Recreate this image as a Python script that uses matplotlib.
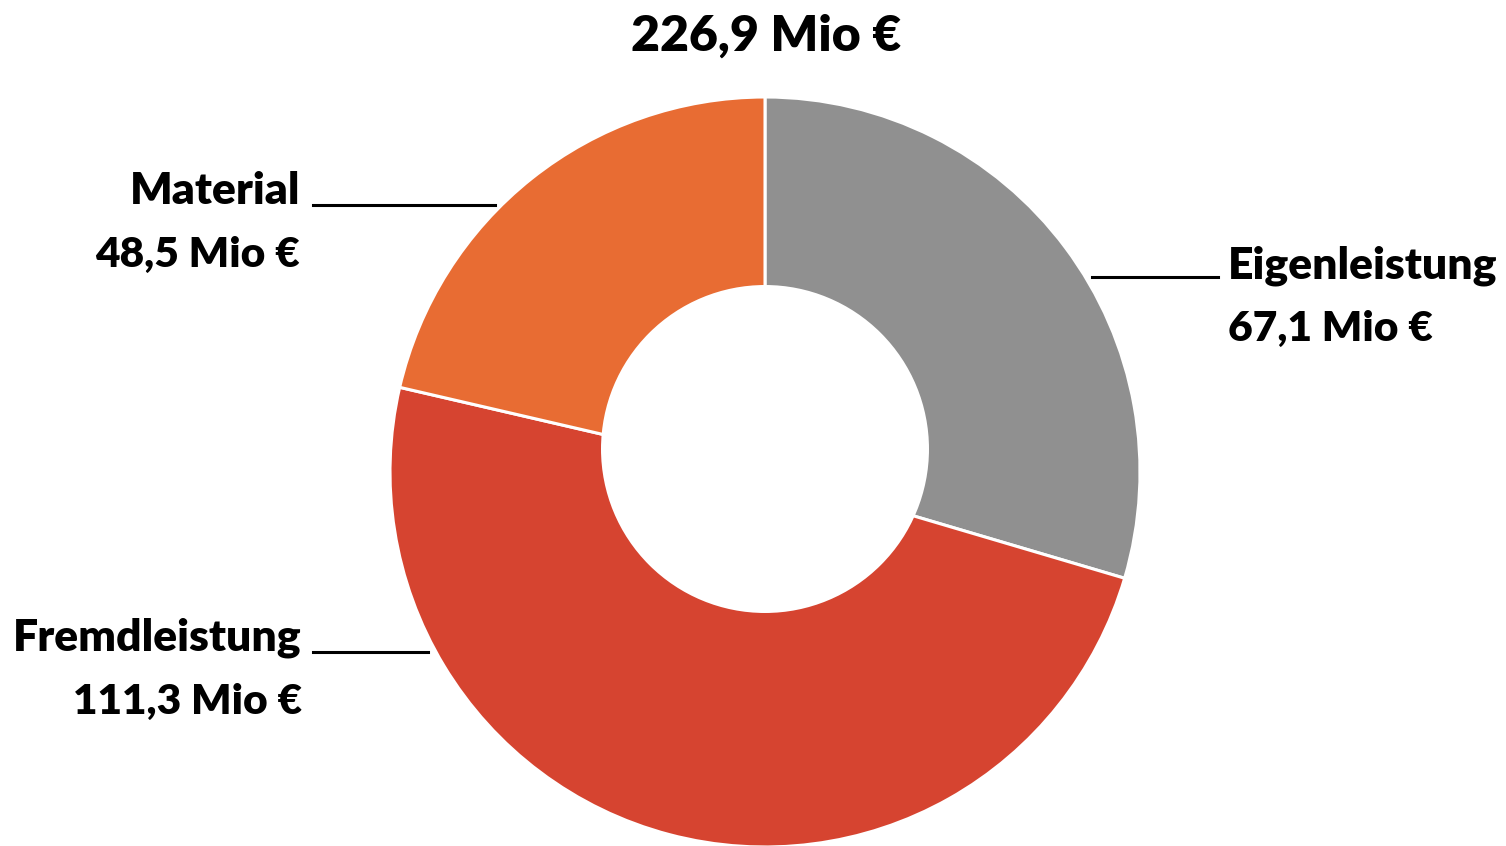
import matplotlib.pyplot as plt
from matplotlib import font_manager
from matplotlib.patches import Circle

# data
labels = ["Eigenleistung", "Fremdleistung", "Material"]
values = [67.1, 111.3, 48.5]
value_text = ["67,1 Mio €", "111,3 Mio €", "48,5 Mio €"]
total_text = "226,9 Mio €"
colors = ["#909090", "#d64430", "#e86c33"]

W, H = 1506, 846
names = {f.name for f in font_manager.fontManager.ttflist}
font = "Lato" if "Lato" in names else "DejaVu Sans"
plt.rcParams["font.family"] = [font, "DejaVu Sans"]

fig = plt.figure(figsize=(W / 100, H / 100), dpi=100)
ax = fig.add_axes([0, 0, 1, 1])

def py(y):
    # pixel row from top -> data y
    return H - y

ax.pie(values, colors=colors, startangle=90, counterclock=False,
       center=(765, py(472)), radius=375,
       wedgeprops=dict(edgecolor="white", linewidth=2.2))
# hole sits a bit above the pie centre in the original
ax.add_patch(Circle((765, py(449)), 164, facecolor="white", edgecolor="none", zorder=5))
ax.set_xlim(0, W)
ax.set_ylim(0, H)
ax.set_aspect("equal")
ax.axis("off")

fs = 32
fs_val = 30.5
wt = "heavy"
ax.text(766, py(51), total_text, ha="center", va="baseline", fontsize=36, fontweight=wt)

# Eigenleistung (right)
ax.plot([1092, 1218], [py(277), py(277)], color="black", lw=2.2)
ax.text(1228, py(278), labels[0], ha="left", va="baseline", fontsize=fs, fontweight=wt)
ax.text(1228, py(341), value_text[0], ha="left", va="baseline", fontsize=fs_val, fontweight=wt)

# Fremdleistung (left, bottom)
ax.plot([313, 428], [py(652), py(652)], color="black", lw=2.2)
ax.text(302, py(651), labels[1], ha="right", va="baseline", fontsize=fs, fontweight=wt)
ax.text(302, py(714), value_text[1], ha="right", va="baseline", fontsize=fs_val, fontweight=wt)

# Material (left, top)
ax.plot([313, 495], [py(205), py(205)], color="black", lw=2.2)
ax.text(300, py(204), labels[2], ha="right", va="baseline", fontsize=fs, fontweight=wt)
ax.text(300, py(267), value_text[2], ha="right", va="baseline", fontsize=fs_val, fontweight=wt)

fig.savefig("out.png", dpi=100, facecolor="white")
